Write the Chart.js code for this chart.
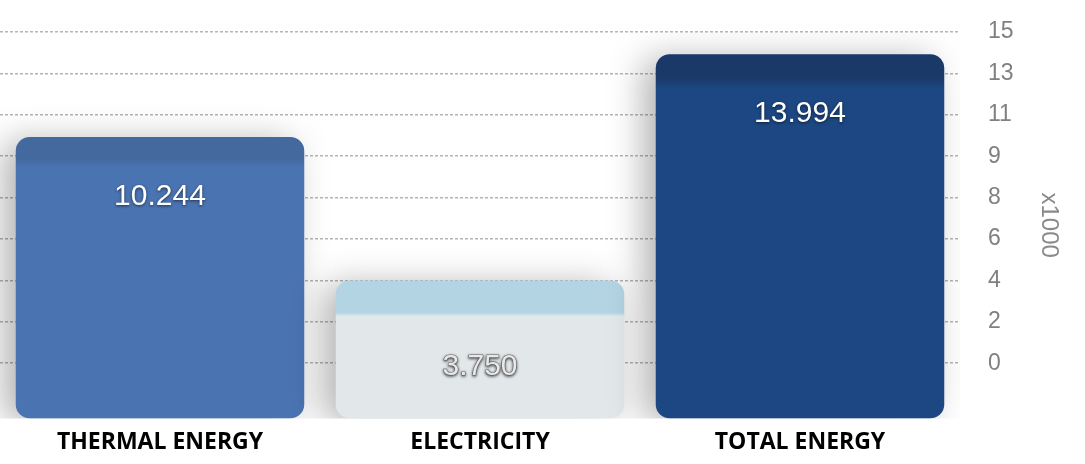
<!DOCTYPE html>
<html>
<head>
<meta charset="utf-8">
<script src="https://cdn.jsdelivr.net/npm/chart.js@4/dist/chart.umd.min.js"></script>
<style>
  html, body { margin: 0; padding: 0; background: #fff; }
  #wrap { width: 1085px; height: 464px; }
</style>
</head>
<body>
<div id="wrap"><canvas id="energy-chart"></canvas></div>
<script>
// energy use, thousands
var categories = ['THERMAL ENERGY', 'ELECTRICITY', 'TOTAL ENERGY'];
var values = [10.244, 3.750, 13.994];
var tickLabels = ['0', '2', '4', '6', '8', '9', '11', '13', '15'];
var axisMax = 15;

// top face colour, front colour, top face depth
var barColors = [
	['#44699f', '#4a73b1', 22],
	['#b3d4e3', '#e2e8ea', 32],
	['#1a3969', '#1c4782', 24]
];

function barFill(context) {
	var chart = context.chart;
	var area = chart.chartArea;
	var c = barColors[context.dataIndex];
	if (!area) return c[1];
	var y = chart.scales.y;
	var top = y.getPixelForValue(values[context.dataIndex]);
	var bottom = area.bottom;
	var g = chart.ctx.createLinearGradient(0, top, 0, bottom);
	var edge = Math.min(0.9, c[2] / (bottom - top));
	g.addColorStop(0, c[0]);
	g.addColorStop(edge, c[0]);
	g.addColorStop(Math.min(1, edge + 0.03), c[1]);
	g.addColorStop(1, c[1]);
	return g;
}

// soft shadow under the bars
var barShadow = {
	id: 'barShadow',
	beforeDatasetsDraw: function(chart) {
		var ctx = chart.ctx;
		ctx.save();
		ctx.shadowColor = 'rgba(0,0,0,0.3)';
		ctx.shadowBlur = 34;
		ctx.shadowOffsetX = -12;
		ctx.shadowOffsetY = 4;
	},
	afterDatasetsDraw: function(chart) {
		chart.ctx.restore();
	}
};

// value printed inside each bar
var valueLabels = {
	id: 'valueLabels',
	afterDatasetsDraw: function(chart) {
		var ctx = chart.ctx;
		var meta = chart.getDatasetMeta(0);
		ctx.save();
		ctx.font = '30px "Liberation Sans", Arial, sans-serif';
		ctx.textAlign = 'center';
		ctx.textBaseline = 'middle';
		meta.data.forEach(function(bar, i) {
			var text = values[i].toFixed(3);
			var ty = bar.y + (i == 1 ? 86 : 60);
			ctx.shadowColor = 'rgba(0,0,0,0.6)';
			ctx.shadowBlur = 3;
			ctx.shadowOffsetY = 1;
			if (i == 1) {
				ctx.fillStyle = '#e8e8e8';
				ctx.strokeStyle = '#7d7d7d';
				ctx.lineWidth = 1.2;
				ctx.strokeText(text, bar.x, ty);
			} else {
				ctx.fillStyle = '#ffffff';
			}
			ctx.fillText(text, bar.x, ty);
		});
		ctx.restore();
	}
};

var ctx = document.getElementById('energy-chart');
var energyChart = new Chart(ctx, {
	type: 'bar',
	data: {
		labels: categories,
		datasets: [{
			data: values,
			backgroundColor: barFill,
			borderRadius: 14,
			borderSkipped: false,
			barPercentage: 0.92,
			categoryPercentage: 0.98,
			base: -2.5
		}]
	},
	plugins: [barShadow, valueLabels],
	options: {
		responsive: true,
		maintainAspectRatio: false,
		animation: false,
		layout: {
			padding: { top: 32, left: 0, right: 0, bottom: 6 }
		},
		plugins: {
			legend: { display: false },
			tooltip: { enabled: false }
		},
		scales: {
			x: {
				grid: { display: false },
				border: { display: false },
				ticks: {
					color: '#000',
					padding: 2,
					font: { family: '"Open Sans", sans-serif', size: 23, weight: 'bold' }
				}
			},
			y: {
				position: 'right',
				min: -2.5,
				max: axisMax,
				afterBuildTicks: function(scale) {
					scale.ticks = tickLabels.map(function(t, i) {
						return { value: i * axisMax / (tickLabels.length - 1) };
					});
				},
				afterFit: function(scale) {
					scale.width = 125;
					scale.paddingTop = 0;
					scale.paddingBottom = 0;
				},
				border: { display: false, dash: [3, 2] },
				grid: {
					color: '#b4b4b4',
					lineWidth: 1.5,
					drawTicks: false
				},
				ticks: {
					color: '#808080',
					padding: 28,
					font: { family: '"Liberation Sans", Arial, sans-serif', size: 23 },
					callback: function(value, index) {
						return tickLabels[index];
					}
				},
				title: {
					display: true,
					text: 'x1000',
					color: '#8a8a8a',
					padding: { top: 22, bottom: 0 },
					font: { family: '"Liberation Sans", Arial, sans-serif', size: 24 }
				}
			}
		}
	}
});
</script>
</body>
</html>
